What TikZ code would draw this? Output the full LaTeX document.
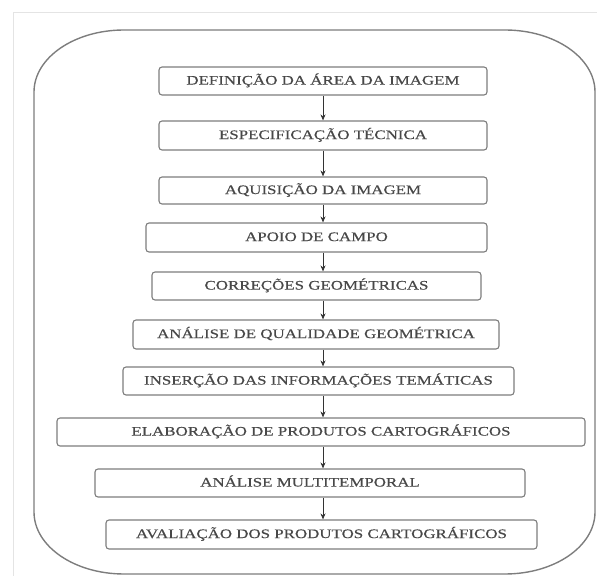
\documentclass[tikz,border=0pt]{standalone}
\usepackage{fontspec}
\setmainfont[FakeStretch=1.3, FakeBold=0.4]{Liberation Serif}
\usepackage{tikz}
\usetikzlibrary{positioning, arrows.meta}
\usepackage{xcolor}
\definecolor{ink}{RGB}{72,72,72}
\definecolor{edge}{RGB}{125,125,125}
\definecolor{frame}{RGB}{228,228,228}

\begin{document}
\begin{tikzpicture}[
  x=1pt, y=1pt,
  box/.style={draw=edge, line width=1.1pt, rounded corners=3pt, fill=white,
    text=ink, font=\fontsize{13}{15}\selectfont, inner sep=0pt,
    text height=8.6pt, text depth=1.5pt}, % step boxes
  flow/.style={draw=black!80, line width=0.8pt, -{Stealth[length=6pt, width=5pt]}}
]
\useasboundingbox (0,0) rectangle (597,576);
% Page frame
\draw[frame, line width=1pt] (13,0) -- (13,563) -- (597,563);
% Outer rounded frame
\draw[edge, line width=1.4pt] (124,546) -- (505,546)
  arc[start angle=90, end angle=0, x radius=90pt, y radius=62pt] -- (595,64)
  arc[start angle=0, end angle=-90, x radius=90pt, y radius=62pt] -- (124,2)
  arc[start angle=270, end angle=180, x radius=90pt, y radius=62pt] -- (34,484)
  arc[start angle=180, end angle=90, x radius=90pt, y radius=62pt] -- cycle;
% Steps
\node[box, minimum width=328pt, minimum height=28pt] (area) at (323,495) {DEFINIÇÃO DA ÁREA DA IMAGEM};
\node[box, minimum width=328pt, minimum height=29pt] (spec) at (323,440.5) {ESPECIFICAÇÃO TÉCNICA};
\node[box, minimum width=328pt, minimum height=27pt] (aquis) at (323,385.5) {AQUISIÇÃO DA IMAGEM};
\node[box, minimum width=341pt, minimum height=29pt] (campo) at (316.5,338.5) {APOIO DE CAMPO};
\node[box, minimum width=329pt, minimum height=28pt] (corr) at (316.5,290) {CORREÇÕES GEOMÉTRICAS};
\node[box, minimum width=366pt, minimum height=29pt] (qual) at (316,241.5) {ANÁLISE DE QUALIDADE GEOMÉTRICA};
\node[box, minimum width=391pt, minimum height=28pt] (insert) at (318.5,195) {INSERÇÃO DAS INFORMAÇÕES TEMÁTICAS};
\node[box, minimum width=528pt, minimum height=28pt] (prod) at (321,144) {ELABORAÇÃO DE PRODUTOS CARTOGRÁFICOS};
\node[box, minimum width=430pt, minimum height=28pt] (multi) at (310,93) {ANÁLISE MULTITEMPORAL};
\node[box, minimum width=431pt, minimum height=29pt] (aval) at (321.5,41.5) {AVALIAÇÃO DOS PRODUTOS CARTOGRÁFICOS};
% Arrows
\coordinate (spine) at (323,0);
\foreach \a/\b in {area/spec, spec/aquis, aquis/campo, campo/corr, corr/qual,
                   qual/insert, insert/prod, prod/multi, multi/aval}
  \draw[flow] (\a.south -| spine) -- (\b.north -| spine);
\end{tikzpicture}
\end{document}
